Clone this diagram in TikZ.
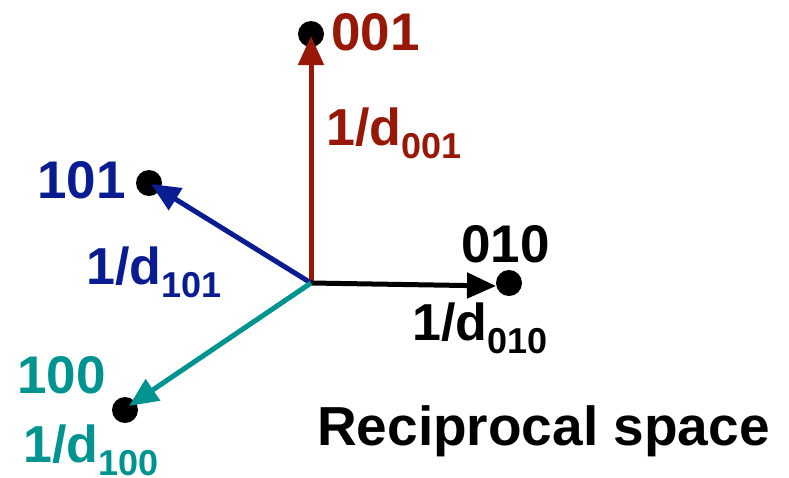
\documentclass[tikz,border=0pt]{standalone}
\usepackage{fontspec}
\setmainfont{Liberation Sans}
\usetikzlibrary{arrows.meta}
\definecolor{cred}{RGB}{152,24,8}
\definecolor{cblue}{RGB}{10,28,146}
\definecolor{cteal}{RGB}{0,148,144}
\newcommand{\mysub}[1]{\raisebox{-13pt}{\fontsize{36}{36}\selectfont #1}}
\tikzset{
  dot/.style={circle,fill=black,inner sep=0pt,minimum size=26pt},
  vec/.style={line width=5pt,-{Triangle[length=29pt,width=25pt]}},
  lbl/.style={anchor=base west,inner sep=0pt,font=\bfseries\fontsize{53}{53}\selectfont},
  dlbl/.style={anchor=base west,inner sep=0pt,font=\bfseries\fontsize{52}{52}\selectfont},
}
\begin{document}
\begin{tikzpicture}[x=1pt,y=-1pt]
\useasboundingbox (0,0) rectangle (789,477);
\coordinate (O) at (311,283);
\node[dot] (d001) at (311,34) {};
\node[dot] (d101) at (149,183) {};
\node[dot] (d010) at (509,283) {};
\node[dot] (d100) at (125,410) {};
\coordinate (t001) at (311,36);
\coordinate (t101) at (151,184);
\coordinate (t010) at (496,286);
\coordinate (t100) at (129,406);
\draw[vec,cred] (O) -- (t001);
\draw[vec,cblue] (O) -- (t101);
\draw[vec,black] (O) -- (t010);
\draw[vec,cteal] (O) -- (t100);
\node[lbl,text=cred] (l001) at (331,50) {001};
\node[dlbl,text=cred] (r001) at (326,145) {1/d\mysub{001}};
\node[lbl,text=cblue] (l101) at (37,198) {101};
\node[dlbl,text=cblue] (r101) at (86,284) {1/d\mysub{101}};
\node[lbl,text=black] (l010) at (461,262) {010};
\node[dlbl,text=black] (r010) at (412,340) {1/d\mysub{010}};
\node[lbl,text=cteal] (l100) at (17,393) {100};
\node[dlbl,text=cteal] (r100) at (23,462) {1/d\mysub{100}};
\node[anchor=base west,inner sep=0pt,font=\bfseries\fontsize{55}{55}\selectfont] (title) at (317,445) {Reciprocal space};
\end{tikzpicture}
\end{document}
